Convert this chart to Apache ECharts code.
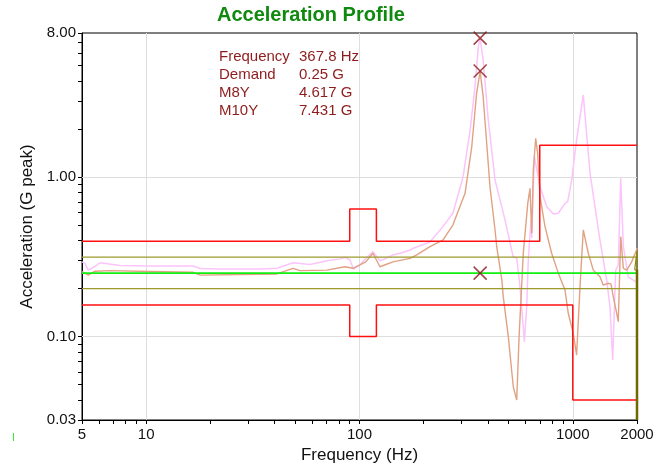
<!DOCTYPE html>
<html>
<head>
<meta charset="utf-8">
<script src="https://cdn.jsdelivr.net/npm/echarts@6/dist/echarts.min.js"></script>
<style>html,body{margin:0;padding:0;background:#fff}#c{width:666px;height:463px}</style>
</head>
<body>
<div id="c"></div>
<script>
// ---- data ----
const m10yFreq = [5,5.16,5.35,5.75,6.07,7.54,10.4,16.6,17.9,22.2,34.1,41.0,48.8,58.6,70.4,81.0,85.5,90.3,93.5,100.5,107,115.6,124.7,133,143.5,155,172.5,179,214,246,274,306,330,348,360.5,367.8,380,401.5,432,481,525,546,565.5,593,608,618.5,637,642,660,702,755,811,855,919,946,988,1042,1120,1205,1271,1341,1442,1494,1538,1589,1634,1678,1726,1820,1972,2000];
const m10yVal  = [0.294,0.288,0.261,0.275,0.290,0.279,0.277,0.277,0.267,0.265,0.265,0.268,0.290,0.283,0.299,0.307,0.314,0.302,0.265,0.281,0.309,0.341,0.299,0.309,0.325,0.333,0.349,0.358,0.392,0.489,0.593,1.005,1.97,3.68,6.55,7.431,5.42,2.28,0.958,0.539,0.317,0.311,0.205,0.093,0.154,0.302,0.539,0.415,1.35,0.870,0.651,0.587,0.593,0.684,0.700,0.958,1.71,3.27,1.055,0.651,0.403,0.226,0.154,0.0713,0.261,0.281,0.982,0.366,0.237,0.221,0.220];

const m8yFreq = [5,5.35,5.75,6.77,10.4,16.6,17.9,27.5,41.0,48.8,52.6,70.4,85.5,93.2,107,115.6,124.7,127,133,143.5,172.5,185.5,214,246,274,312.5,336,354,367.8,380,409,432,440,465,472,498.5,526,536,546,560,586,615,630,642,653,670,684,702,741,796,855,919,952,1005,1042,1081,1120,1182,1248,1341,1390,1466,1510,1548,1606,1634,1678,1726,1790,1888,1990,2000];
const m8yVal  = [0.255,0.243,0.257,0.259,0.256,0.253,0.243,0.245,0.247,0.268,0.259,0.261,0.274,0.268,0.294,0.333,0.274,0.268,0.283,0.294,0.309,0.325,0.366,0.403,0.500,0.791,1.55,3.35,4.617,3.19,0.870,0.466,0.366,0.226,0.178,0.100,0.0485,0.0497,0.040,0.100,0.333,0.684,0.850,0.444,1.107,1.75,1.41,0.753,0.489,0.333,0.250,0.196,0.140,0.105,0.0766,0.205,0.466,0.333,0.261,0.237,0.210,0.216,0.213,0.178,0.140,0.124,0.423,0.268,0.261,0.294,0.349,0.360];

const demandFreq = [5, 2000];
const demandVal  = [0.25, 0.25];

const alarmFreq  = [5, 2000];
const alarmHigh  = [0.315, 0.315];
const alarmLow   = [0.2, 0.2];

const abortHighFreq = [5,90,90,120,120,700,700,2000];
const abortHighVal  = [0.396,0.396,0.63,0.63,0.396,0.396,1.585,1.585];
const abortLowFreq  = [5,90,90,120,120,1000,1000,2000];
const abortLowVal   = [0.158,0.158,0.1,0.1,0.158,0.158,0.04,0.04];

const edgeFreq = [1950, 2000, 2000, 1950];
const edgeVal  = [0.262, 0.345, 0.262, 0.262];
const edgeDropFreq = [2000, 2000];
const edgeDropVal  = [0.262, 0.03];

const cursorFreq = [367.8, 367.8, 367.8];
const cursorVal  = [7.431, 4.617, 0.25];

const xTickValues  = [5,6,7,8,9,10,20,30,40,50,60,70,80,90,100,200,300,400,500,600,700,800,900,1000,2000];
const xLabelValues = [5,10,100,1000,2000];
const yTickValues  = [0.03,0.04,0.05,0.06,0.07,0.08,0.09,0.1,0.2,0.3,0.4,0.5,0.6,0.7,0.8,0.9,1,2,3,4,5,6,7,8];
const yLabelValues = [0.03,0.1,1,8];
const xGridValues  = [10,100,1000];
const yGridValues  = [0.1,1];

const infoLabels = ['Frequency','Demand','M8Y','M10Y'];
const infoValues = ['367.8 Hz','0.25 G','4.617 G','7.431 G'];

// ---- build ----
const zip = (a,b) => a.map((v,i)=>[v,b[i]]);
const FONT = '"Liberation Sans", Arial, sans-serif';
const infoColor = '#8e1c1c';

const graphics = [];
infoLabels.forEach((t,i)=>{
  graphics.push({type:'text', x:219, y:57+i*18, style:{text:t, fill:infoColor, font:'15px '+FONT, verticalAlign:'middle'}});
  graphics.push({type:'text', x:299, y:57+i*18, style:{text:infoValues[i], fill:infoColor, font:'15px '+FONT, verticalAlign:'middle'}});
});
graphics.push({type:'line', shape:{x1:13.5,y1:433,x2:13.5,y2:441}, style:{stroke:'#33ee33', lineWidth:1}});

const chart = echarts.init(document.getElementById('c'), null, {renderer:'canvas'});
const line = (name, data, color, width, z) => ({
  name, type:'line', data, symbol:'none', animation:false, z: z||2,
  lineStyle:{color, width}, itemStyle:{color}
});

chart.setOption({
  animation:false,
  backgroundColor:'#fff',
  title:{text:'Acceleration Profile', left:217, top:5, padding:0,
    textStyle:{color:'#0f8a0f', fontSize:20, fontWeight:'bold', fontFamily:FONT}},
  grid:{left:82, right:29, top:33, bottom:43, show:true, borderColor:'#000', borderWidth:1,
    containLabel:false, outerBoundsMode:'none'},
  xAxis:{type:'log', logBase:10, min:5, max:2000,
    name:'Frequency (Hz)', nameLocation:'middle', nameGap:22,
    nameTextStyle:{color:'#111', fontSize:17, fontFamily:FONT},
    axisLine:{lineStyle:{color:'#000', width:1}},
    axisTick:{show:true, length:4, lineStyle:{color:'#000'}, customValues:xTickValues},
    axisLabel:{customValues:xLabelValues, color:'#111', fontSize:15, fontFamily:FONT, margin:7,
      formatter:v=>String(Math.round(v))},
    splitLine:{show:false}},
  yAxis:{type:'log', logBase:10, min:0.03, max:8,
    name:'Acceleration (G peak)', nameLocation:'middle', nameGap:45,
    nameTextStyle:{color:'#111', fontSize:17, fontFamily:FONT},
    axisLine:{show:true, lineStyle:{color:'#000', width:1}},
    axisTick:{show:true, length:4, lineStyle:{color:'#000'}, customValues:yTickValues},
    axisLabel:{customValues:yLabelValues, color:'#111', fontSize:15, fontFamily:FONT, margin:6,
      formatter:v=>Number(v).toFixed(2)},
    splitLine:{show:false}},
  graphic:graphics,
  series:[
    {type:'line', data:[], symbol:'none', silent:true,
      markLine:{silent:true, symbol:'none', z:1, animation:false, label:{show:false},
        lineStyle:{color:'#dedede', width:1, type:'solid'},
        data:[...xGridValues.map(v=>({xAxis:v})), ...yGridValues.map(v=>({yAxis:v}))]}},
    line('M10Y', zip(m10yFreq,m10yVal), '#fbc4fb', 1.5, 2),
    line('M8Y', zip(m8yFreq,m8yVal), '#e0a283', 1.4, 3),
    line('Alarm+', zip(alarmFreq,alarmHigh), '#9c9a2a', 1.2, 4),
    line('Alarm-', zip(alarmFreq,alarmLow), '#9c9a2a', 1.2, 4),
    line('Demand', zip(demandFreq,demandVal), '#11ee11', 1.6, 4),
    line('Abort+', zip(abortHighFreq,abortHighVal), '#ff1010', 1.5, 5),
    line('Abort-', zip(abortLowFreq,abortLowVal), '#ff1010', 1.5, 5),
    line('Edge', zip(edgeFreq,edgeVal), '#8a8a10', 1.2, 5),
    line('EdgeDrop', zip(edgeDropFreq,edgeDropVal), '#6e6a00', 2.5, 5),
    {type:'scatter', data:zip(cursorFreq,cursorVal), z:10,
      symbol:'path://M0,0L10,10M10,0L0,10', symbolSize:13,
      itemStyle:{color:'rgba(0,0,0,0)', borderColor:'#8b1414', borderWidth:1.5}}
  ]
});
</script>
</body>
</html>
